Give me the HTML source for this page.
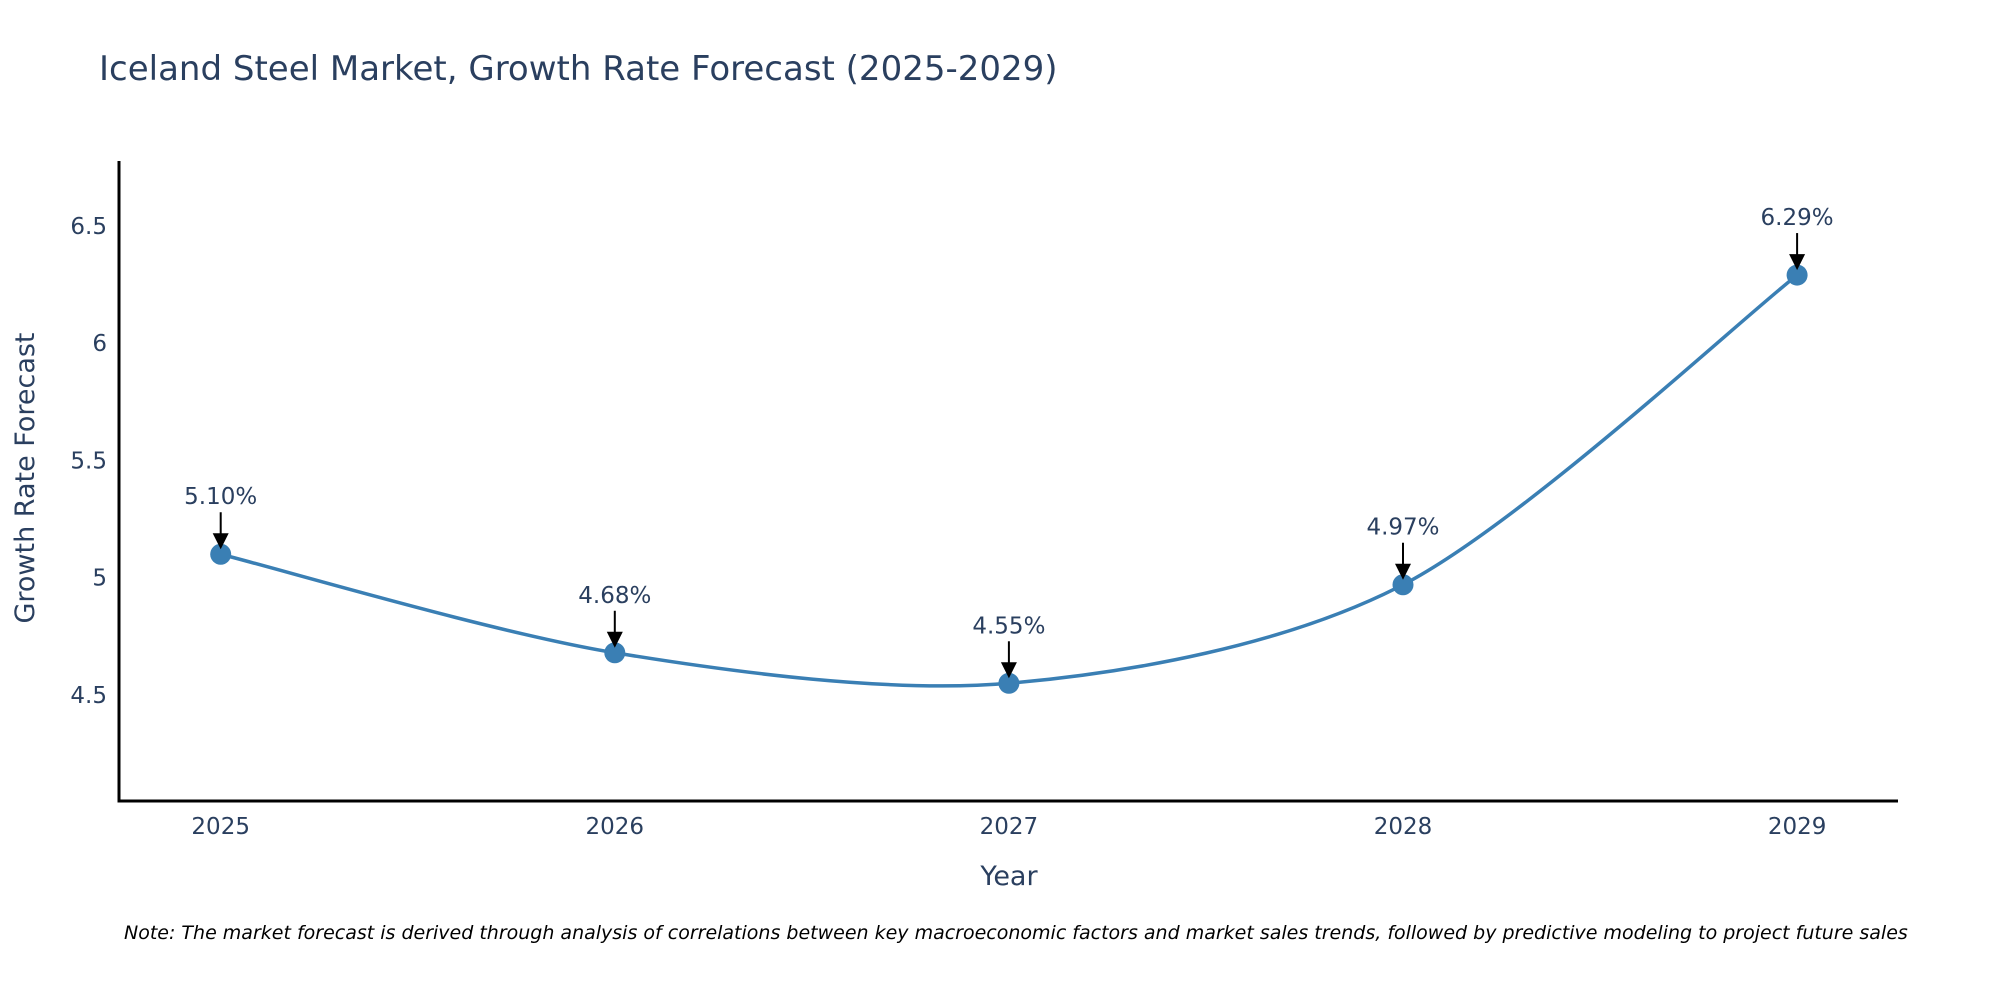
<!DOCTYPE html>
<html><head><meta charset="utf-8">
<style>
html,body{margin:0;padding:0;background:#fff;width:2000px;height:1000px;overflow:hidden;}
svg text{font-family:"DejaVu Sans","Liberation Sans",sans-serif;fill:#2a3f5f;}
</style></head>
<body>
<svg id="chart" width="2000" height="1000" viewBox="0 0 2000 1000" xmlns="http://www.w3.org/2000/svg">
<text x="99" y="80" font-size="34">Iceland Steel Market, Growth Rate Forecast (2025-2029)</text>
<g id="yticks"></g>
<g id="xticks"></g>
<path id="line" fill="none" stroke="#3a7fb4" stroke-width="3.5"/>
<g id="marks"></g>
<g id="annos"></g>
<line x1="119" y1="161" x2="119" y2="802" stroke="#000" stroke-width="3"/>
<line x1="117.5" y1="801" x2="1898" y2="801" stroke="#000" stroke-width="3"/>
<text transform="translate(34,478) rotate(-90)" text-anchor="middle" font-size="27">Growth Rate Forecast</text>
<text x="1009" y="885" text-anchor="middle" font-size="27">Year</text>
<text x="124" y="939" font-size="19" font-style="italic" style="fill:#000">Note: The market forecast is derived through analysis of correlations between key macroeconomic factors and market sales trends, followed by predictive modeling to project future sales</text>
</svg>
<script>
const years = [2025, 2026, 2027, 2028, 2029];
const rates = [5.10, 4.68, 4.55, 4.97, 6.29];
const yTickVals = [4.5, 5, 5.5, 6, 6.5];
const yTickLabels = ["4.5", "5", "5.5", "6", "6.5"];

const NS = "http://www.w3.org/2000/svg";
function X(v){ return 220.7 + (v - 2025) * 394.1; }
function Y(v){ return 695 - (v - 4.5) * 234.6; }
function mk(tag, attrs, parent){
  const e = document.createElementNS(NS, tag);
  for (const k in attrs) e.setAttribute(k, attrs[k]);
  parent.appendChild(e);
  return e;
}
const yt = document.getElementById('yticks');
yTickVals.forEach((v,i)=>{
  const t = mk('text',{x:107,y:Y(v)+8,'text-anchor':'end','font-size':23},yt);
  
  
  t.textContent = yTickLabels[i];
});
const xt = document.getElementById('xticks');
years.forEach(v=>{
  const t = mk('text',{x:X(v),y:834,'text-anchor':'middle','font-size':23},xt);
  
  
  t.textContent = String(v);
});
const pts = years.map((y,i)=>[X(y),Y(rates[i])]);
let d = `M${pts[0][0]},${pts[0][1]}`;
const s = 0.15;
for (let i=0;i<pts.length-1;i++){
  const p0 = pts[Math.max(0,i-1)], p1 = pts[i], p2 = pts[i+1], p3 = pts[Math.min(pts.length-1,i+2)];
  const c1 = [p1[0]+(p2[0]-p0[0])*s, p1[1]+(p2[1]-p0[1])*s];
  const c2 = [p2[0]-(p3[0]-p1[0])*s, p2[1]-(p3[1]-p1[1])*s];
  d += ` C${c1[0]},${c1[1]} ${c2[0]},${c2[1]} ${p2[0]},${p2[1]}`;
}
document.getElementById('line').setAttribute('d', d);
const mg = document.getElementById('marks');
const ag = document.getElementById('annos');
pts.forEach((p,i)=>{
  const c = mk('circle',{cx:p[0],cy:p[1],r:10.5,fill:'#3a7fb4'},mg);
  
  
  const l = mk('line',{x1:p[0],y1:p[1]-42,x2:p[0],y2:p[1]-16,stroke:'#000','stroke-width':2},ag);
  
  
  const h = mk('polygon',{points:`${p[0]-8},${p[1]-21} ${p[0]+8},${p[1]-21} ${p[0]},${p[1]-5}`,fill:'#000'},ag);
  
  
  const t = mk('text',{x:p[0],y:p[1]-50,'text-anchor':'middle','font-size':23},ag);
  
  
  t.textContent = rates[i].toFixed(2) + '%';
});
</script>
</body></html>
